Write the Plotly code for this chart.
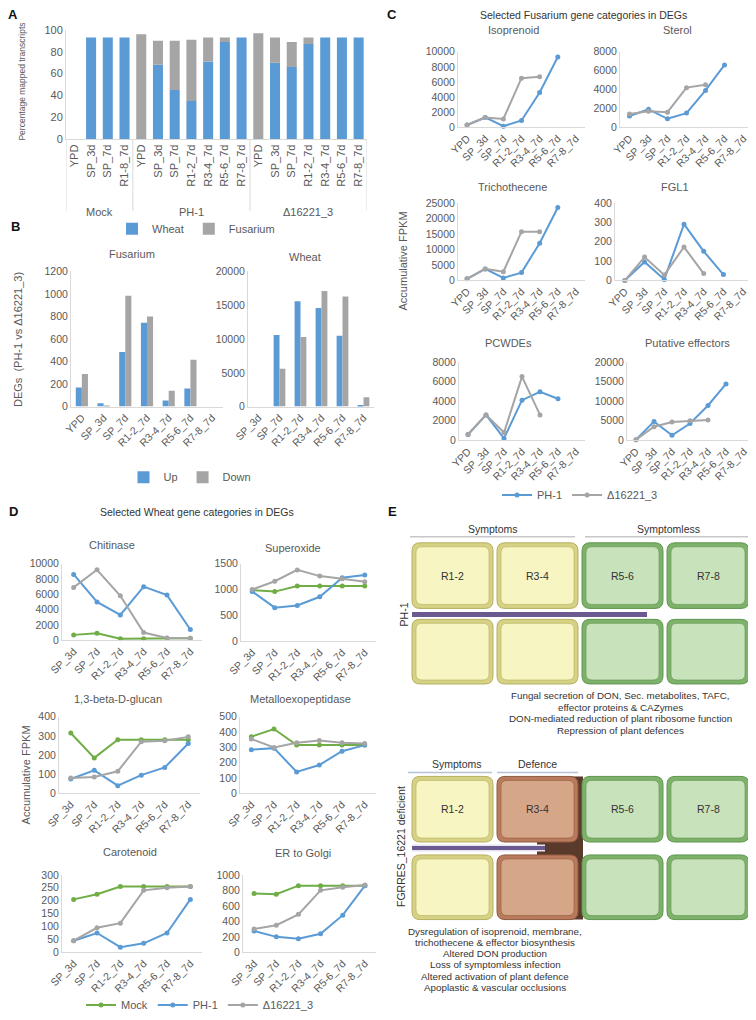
import plotly.graph_objects as go

# page body adds an 8px margin, so the figure is drawn 8px smaller and shifted
OFF = 8
W, H = 756 - OFF, 1020 - OFF
BLUE = "#5b9bd5"
GREY = "#a5a5a5"
GREEN = "#70ad47"
TXT = "#595959"
AXC = "#d9d9d9"
FONT = "Liberation Sans, Arial, sans-serif"

# ---- panel A: percentage mapped transcripts (stacked) ----
A_CATS = ["YPD", "SP_3d", "SP_7d", "R1-8_7d",
          "YPD", "SP_3d", "SP_7d", "R1-2_7d", "R3-4_7d", "R5-6_7d", "R7-8_7d",
          "YPD", "SP_3d", "SP_7d", "R1-2_7d", "R3-4_7d", "R5-6_7d", "R7-8_7d"]
A_GROUPS = ["Mock", "PH-1", "Δ16221_3"]
A_GROUP_SIZES = [4, 7, 7]
A_WHEAT = [0, 93, 93, 93, 0, 68, 45, 35, 71, 89, 93, 0, 70, 66, 87, 93, 93, 93]
A_FUS = [0, 0, 0, 0, 96, 22, 45, 56, 22, 4, 0, 97, 23, 23, 6, 0, 0, 0]

# ---- panel B: DEG counts ----
B_FUS_CATS = ["YPD", "SP_3d", "SP_7d", "R1-2_7d", "R3-4_7d", "R5-6_7d", "R7-8_7d"]
B_FUS_UP = [170, 30, 485, 745, 55, 160, 0]
B_FUS_DOWN = [290, 10, 985, 800, 140, 415, 0]
B_WHEAT_CATS = ["SP_3d", "SP_7d", "R1-2_7d", "R3-4_7d", "R5-6_7d", "R7-8_7d"]
B_WHEAT_UP = [0, 10600, 15600, 14600, 10500, 250]
B_WHEAT_DOWN = [0, 5600, 10300, 17100, 16300, 1400]

# ---- panel C: Fusarium gene categories ----
C_CATS = ["YPD", "SP_3d", "SP_7d", "R1-2_7d", "R3-4_7d", "R5-6_7d", "R7-8_7d"]
C_TITLES = ["Isoprenoid", "Sterol", "Trichothecene", "FGL1", "PCWDEs", "Putative effectors"]
C_PH1 = [
    [300, 1300, 150, 900, 4600, 9300, None],
    [1200, 1900, 900, 1500, 3900, 6600, None],
    [500, 3700, 800, 2500, 12000, 23500, None],
    [0, 95, 5, 290, 150, 30, None],
    [600, 2600, 200, 4100, 4950, 4250, None],
    [200, 4800, 1300, 4300, 8900, 14400, None],
]
C_DEL = [
    [300, 1300, 1100, 6500, 6700, None, None],
    [1400, 1700, 1600, 4200, 4500, None, None],
    [500, 3700, 2800, 15700, 15700, None, None],
    [0, 120, 28, 172, 35, None, None],
    [600, 2600, 800, 6500, 2600, None, None],
    [200, 3500, 4700, 5000, 5200, None, None],
]
C_YMAX = [10000, 8000, 25000, 400, 8000, 20000]
C_DTICK = [2000, 2000, 5000, 100, 2000, 5000]

# ---- panel D: wheat gene categories ----
D_CATS = ["SP_3d", "SP_7d", "R1-2_7d", "R3-4_7d", "R5-6_7d", "R7-8_7d"]
D_TITLES = ["Chitinase", "Superoxide", "1,3-beta-D-glucan", "Metalloexopeptidase",
            "Carotenoid", "ER to Golgi"]
D_MOCK = [
    [700, 900, 200, 200, 250, 250],
    [990, 960, 1070, 1070, 1070, 1070],
    [315, 185, 280, 280, 280, 280],
    [370, 420, 315, 315, 315, 315],
    [205, 225, 255, 255, 255, 255],
    [760, 750, 860, 860, 860, 860],
]
D_PH1 = [
    [8600, 5000, 3300, 7000, 5900, 1400],
    [960, 650, 690, 860, 1230, 1280],
    [75, 120, 40, 95, 135, 260],
    [285, 295, 140, 185, 275, 315],
    [45, 75, 20, 35, 75, 205],
    [275, 200, 175, 240, 480, 860],
]
D_DEL = [
    [6900, 9200, 5800, 1000, 300, 250],
    [1000, 1160, 1380, 1260, 1210, 1150],
    [80, 85, 115, 270, 275, 295],
    [355, 300, 330, 345, 330, 325],
    [45, 95, 113, 240, 250, 255],
    [300, 350, 490, 800, 840, 870],
]
D_YMAX = [10000, 1500, 400, 500, 300, 1000]
D_DTICK = [2000, 500, 100, 100, 50, 200]


def X(p):
    return (p - OFF) / W


def Y(p):
    return 1 - (p - OFF) / H


fig = go.Figure()
layout = {}
ann = []
shapes = []


def add_axes(n, xbox, ybox, ymax, dtick, cats=None, tickvals=None, ticktext=None,
             tickangle=-45, fs=10.5):
    s = "" if n == 1 else str(n)
    xa = dict(domain=[X(xbox[0]), X(xbox[1])], anchor="y" + s, showline=True,
              linecolor=AXC, linewidth=1, showgrid=False, zeroline=False, ticks="",
              automargin=False, tickangle=tickangle,
              tickfont=dict(size=fs, color=TXT, family=FONT))
    if cats is not None:
        xa.update(type="category", categoryorder="array", categoryarray=cats,
                  range=[-0.5, len(cats) - 0.5])
    else:
        xa.update(tickvals=tickvals, ticktext=ticktext, range=[-0.5, len(tickvals) - 0.5])
    ya = dict(domain=[Y(ybox[1]), Y(ybox[0])], anchor="x" + s, range=[0, ymax], dtick=dtick,
              tickformat="d", showline=True, linecolor=AXC, linewidth=1, showgrid=False,
              zeroline=False, ticks="", automargin=False,
              tickfont=dict(size=fs, color=TXT, family=FONT))
    layout["xaxis" + s] = xa
    layout["yaxis" + s] = ya
    return "x" + s, "y" + s


def text(x, y, t, size=11, color=TXT, angle=0, xanchor="center"):
    ann.append(dict(x=X(x), y=Y(y), xref="paper", yref="paper", text=t, showarrow=False,
                    textangle=angle, xanchor=xanchor, yanchor="middle",
                    font=dict(size=size, color=color, family=FONT)))


# ---------- A ----------
xs = list(range(len(A_CATS)))
xa, ya = add_axes(1, (66, 367), (30, 140), 100, 20, tickvals=xs, ticktext=A_CATS,
                  tickangle=-90, fs=11)
fig.add_trace(go.Bar(x=xs, y=A_WHEAT, width=0.6, marker_color=BLUE, name="Wheat",
                     xaxis=xa, yaxis=ya, legend="legend"))
fig.add_trace(go.Bar(x=xs, y=A_FUS, base=A_WHEAT, width=0.6, marker_color=GREY,
                     name="Fusarium", xaxis=xa, yaxis=ya, legend="legend"))
text(22, 82, "Percentage mapped transcripts", size=8.5, angle=-90)
start = 0
for g, size in zip(A_GROUPS, A_GROUP_SIZES):
    shapes.append(dict(type="line", xref="x", yref="paper", x0=start - 0.5, x1=start - 0.5,
                       y0=Y(140), y1=Y(212), line=dict(color=AXC, width=1)))
    ann.append(dict(x=start + (size - 1) / 2, y=Y(205), xref="x", yref="paper", text=g,
                    showarrow=False, font=dict(size=11, color=TXT, family=FONT)))
    start += size
shapes.append(dict(type="line", xref="x", yref="paper", x0=start - 0.5, x1=start - 0.5,
                   y0=Y(140), y1=Y(212), line=dict(color=AXC, width=1)))

# ---------- B ----------
xa, ya = add_axes(2, (71, 223), (273, 409), 1200, 200, cats=B_FUS_CATS)
fig.add_trace(go.Bar(x=B_FUS_CATS, y=B_FUS_UP, width=0.28, offset=-0.28, marker_color=BLUE,
                     name="Up", xaxis=xa, yaxis=ya, legend="legend2"))
fig.add_trace(go.Bar(x=B_FUS_CATS, y=B_FUS_DOWN, width=0.28, offset=0, marker_color=GREY,
                     name="Down", xaxis=xa, yaxis=ya, legend="legend2"))
xa, ya = add_axes(3, (248, 374), (273, 409), 20000, 5000, cats=B_WHEAT_CATS)
fig.add_trace(go.Bar(x=B_WHEAT_CATS, y=B_WHEAT_UP, width=0.28, offset=-0.28,
                     marker_color=BLUE, showlegend=False, xaxis=xa, yaxis=ya))
fig.add_trace(go.Bar(x=B_WHEAT_CATS, y=B_WHEAT_DOWN, width=0.28, offset=0,
                     marker_color=GREY, showlegend=False, xaxis=xa, yaxis=ya))
text(132, 255, "Fusarium")
text(305, 258, "Wheat")
text(18, 342, "DEGs  (PH-1 vs Δ16221_3)", angle=-90)

# ---------- C ----------
c_boxes = [((458, 585), (52, 128)), ((620, 753), (52, 128)),
           ((458, 585), (204, 282)), ((615, 753), (204, 282)),
           ((459, 585), (364, 443)), ((627, 753), (364, 443))]
c_title_pos = [(513, 30), (677, 30), (512, 188), (675, 188), (508, 345), (687, 345)]
for i in range(6):
    xa, ya = add_axes(4 + i, c_boxes[i][0], c_boxes[i][1], C_YMAX[i], C_DTICK[i],
                      cats=C_CATS)
    fig.add_trace(go.Scatter(x=C_CATS, y=C_PH1[i], mode="lines+markers", name="PH-1",
                             line=dict(color=BLUE, width=2), marker=dict(size=5),
                             cliponaxis=False, showlegend=(i == 0), legend="legend3",
                             xaxis=xa, yaxis=ya))
    fig.add_trace(go.Scatter(x=C_CATS, y=C_DEL[i], mode="lines+markers", name="Δ16221_3",
                             line=dict(color=GREY, width=2), marker=dict(size=5),
                             cliponaxis=False, showlegend=(i == 0), legend="legend3",
                             xaxis=xa, yaxis=ya))
    text(c_title_pos[i][0], c_title_pos[i][1], C_TITLES[i])
text(583, 15, "Selected Fusarium gene categories in DEGs", size=10.5, color="#333333")
text(403, 263, "Accumulative FPKM", angle=-90)

# ---------- D ----------
d_boxes = [((62, 202), (567, 644)), ((241, 376), (567, 645)),
           ((59, 200), (721, 798)), ((240, 376), (721, 798)),
           ((62, 202), (880, 958)), ((243, 376), (880, 958))]
d_title_pos = [(112, 548), (293, 551), (118, 703), (300, 703), (130, 857), (303, 858)]
for i in range(6):
    xa, ya = add_axes(10 + i, d_boxes[i][0], d_boxes[i][1], D_YMAX[i], D_DTICK[i],
                      cats=D_CATS)
    for name, vals, col in (("Mock", D_MOCK[i], GREEN), ("PH-1", D_PH1[i], BLUE),
                            ("Δ16221_3", D_DEL[i], GREY)):
        fig.add_trace(go.Scatter(x=D_CATS, y=vals, mode="lines+markers", name=name,
                                 line=dict(color=col, width=2), marker=dict(size=5),
                                 cliponaxis=False, showlegend=(i == 0), legend="legend4",
                                 xaxis=xa, yaxis=ya))
    text(d_title_pos[i][0], d_title_pos[i][1], D_TITLES[i])
text(197, 515, "Selected Wheat gene categories in DEGs", size=10.5, color="#333333")
text(26, 780, "Accumulative FPKM", angle=-90)


# ---------- E: schematic ----------
def rrect(x0, y0, x1, y1, r, fill, line=None, lw=0):
    d = (f"M {X(x0 + r)},{Y(y0)} L {X(x1 - r)},{Y(y0)} Q {X(x1)},{Y(y0)} {X(x1)},{Y(y0 + r)} "
         f"L {X(x1)},{Y(y1 - r)} Q {X(x1)},{Y(y1)} {X(x1 - r)},{Y(y1)} "
         f"L {X(x0 + r)},{Y(y1)} Q {X(x0)},{Y(y1)} {X(x0)},{Y(y1 - r)} "
         f"L {X(x0)},{Y(y0 + r)} Q {X(x0)},{Y(y0)} {X(x0 + r)},{Y(y0)} Z")
    shapes.append(dict(type="path", path=d, xref="paper", yref="paper", fillcolor=fill,
                       line=dict(color=line or fill, width=lw)))


BOX = {
    "yellow": ("#d6d184", "#f7f5c2", "#b5b060"),
    "green": ("#7eb16a", "#c8e2bc", "#5f9650"),
    "brown": ("#b97b5c", "#d6a689", "#8f5a40"),
}
COLS = [(412, 493), (497, 578), (582, 663), (667, 749)]


def box(x0, x1, y0, y1, kind):
    outer, inner, edge = BOX[kind]
    rrect(x0, y0, x1, y1, 8, outer, edge, 1)
    rrect(x0 + 4, y0 + 4, x1 - 4, y1 - 4, 6, inner, edge, 0.6)


def hline(x0, x1, y, color, width):
    shapes.append(dict(type="line", xref="paper", yref="paper", x0=X(x0), x1=X(x1),
                       y0=Y(y), y1=Y(y), line=dict(color=color, width=width)))


ET = "#333333"
# top schematic (PH-1)
text(493, 532, "Symptoms", size=10.5, color=ET)
text(668, 532, "Symptomless", size=10.5, color=ET)
hline(410, 575, 540, "#c8c8c8", 1.5)
hline(585, 750, 540, "#c8c8c8", 1.5)
for j, kind in enumerate(["yellow", "yellow", "green", "green"]):
    box(COLS[j][0], COLS[j][1], 546, 612, kind)
    box(COLS[j][0], COLS[j][1], 623, 688, kind)
for j, lab in enumerate(["R1-2", "R3-4", "R5-6", "R7-8"]):
    text((COLS[j][0] + COLS[j][1]) / 2, 579, lab, size=10.5, color=ET)
hline(412, 647, 618, "#6b5a90", 5)
text(404, 618, "PH-1", size=10.5, color=ET, angle=-90)
for k, line in enumerate(["Fungal secretion of DON, Sec. metabolites, TAFC,",
                          "effector proteins & CAZymes",
                          "DON-mediated reduction of plant ribosome function",
                          "Repression of plant defences"]):
    text(620, 700 + k * 11.5, line, size=9.8, color=ET)

# bottom schematic (deletion)
text(457, 769, "Symptoms", size=10.5, color=ET)
text(537, 769, "Defence", size=10.5, color=ET)
hline(408, 492, 777, "#b4c4d4", 1.5)
hline(497, 578, 777, "#b4c4d4", 1.5)
shapes.append(dict(type="rect", xref="paper", yref="paper", x0=X(537), x1=X(583),
                   y0=Y(925), y1=Y(781), fillcolor="#5a3a2a", line=dict(width=0)))
for j, kind in enumerate(["yellow", "brown", "green", "green"]):
    box(COLS[j][0], COLS[j][1], 781, 847, kind)
    box(COLS[j][0], COLS[j][1], 860, 925, kind)
for j, lab in enumerate(["R1-2", "R3-4", "R5-6", "R7-8"]):
    text((COLS[j][0] + COLS[j][1]) / 2, 814, lab, size=10.5, color=ET)
hline(412, 545, 853, "#e8e4f0", 7)
hline(412, 545, 853, "#6b5a90", 4)
text(401, 852, "FGRRES_16221 deficient", size=10.5, color=ET, angle=-90)
for k, line in enumerate(["Dysregulation of isoprenoid, membrane,",
                          "trichothecene & effector biosynthesis",
                          "Altered DON production",
                          "Loss of symptomless infection",
                          "Altered activation of plant defence",
                          "Apoplastic & vascular occlusions"]):
    text(495, 937 + k * 11.2, line, size=9.8, color=ET)

# panel letters
for lab, x, y in (("A", 13, 15), ("B", 16, 228), ("C", 392, 15), ("D", 13, 515),
                  ("E", 392, 515)):
    ann.append(dict(x=X(x), y=Y(y), xref="paper", yref="paper", text=f"<b>{lab}</b>",
                    showarrow=False, xanchor="center", yanchor="middle",
                    font=dict(size=13, color="#111111", family=FONT)))

leg = dict(orientation="h", xanchor="center", yanchor="middle", bgcolor="rgba(0,0,0,0)",
           font=dict(size=11, color=TXT, family=FONT), itemwidth=30)
fig.update_layout(
    template="none",
    width=W, height=H, autosize=False, margin=dict(l=0, r=0, t=0, b=0, pad=0),
    paper_bgcolor="white", plot_bgcolor="white", barmode="overlay",
    font=dict(family=FONT, color=TXT),
    annotations=ann, shapes=shapes,
    legend=dict(leg, x=X(196), y=Y(230)),
    legend2=dict(leg, x=X(190), y=Y(480)),
    legend3=dict(leg, x=X(580), y=Y(498)),
    legend4=dict(leg, x=X(200), y=Y(1011)),
    **layout,
)
fig.write_html("out.html")
